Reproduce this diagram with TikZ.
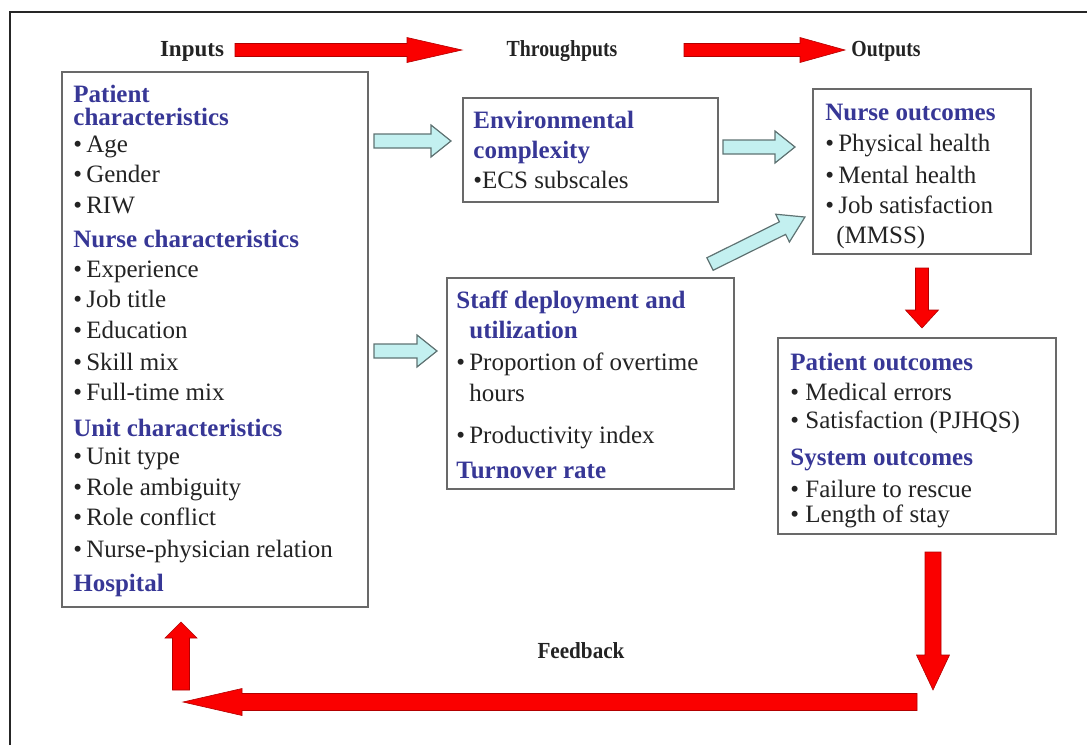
\documentclass[tikz,border=0pt]{standalone}
\usepackage{fontspec}
\setmainfont{Liberation Serif}
\usetikzlibrary{calc}
\definecolor{hdr}{RGB}{55,55,150}
\definecolor{txt}{RGB}{35,35,35}
\definecolor{boxline}{RGB}{105,105,105}
\definecolor{cyanfill}{RGB}{195,240,240}
\definecolor{cyanline}{RGB}{95,115,115}
\definecolor{arrred}{RGB}{250,0,0}
\newcommand\hd[1]{\textcolor{hdr}{\textbf{#1}}}
\makeatletter
\newcommand\blockarrow[6]{%
  \pgfpointdiff{\pgfpointanchor{#2}{center}}{\pgfpointanchor{#3}{center}}%
  \pgfgetlastxy{\ba@dx}{\ba@dy}%
  \pgfmathsetmacro\ba@len{veclen(\ba@dx,\ba@dy)}%
  \pgfmathsetmacro\ba@ang{atan2(\ba@dy,\ba@dx)}%
  \begin{scope}[shift={(#2)},rotate=\ba@ang]
    \draw[#1] (0pt,-#4) -- ({\ba@len pt-#6},-#4) -- ({\ba@len pt-#6},-#5) -- (\ba@len pt,0pt) -- ({\ba@len pt-#6},#5) -- ({\ba@len pt-#6},#4) -- (0pt,#4) -- cycle;
  \end{scope}}
\makeatother
\begin{document}
\begin{tikzpicture}[x=0.5pt,y=-0.5pt,
  box/.style={draw=boxline,line width=0.8pt,inner sep=0pt,anchor=north west},
  body/.style={inner sep=0pt,anchor=north west,align=left,text=txt,font=\fontsize{12.5}{15}\selectfont},
  toplabel/.style={inner sep=0pt,anchor=base,text=txt,font=\bfseries\fontsize{11.5}{14}\selectfont},
  redarrow/.style={fill=arrred,draw=red!70!black,line width=0.3pt},
  cyanarrow/.style={fill=cyanfill,draw=cyanline,line width=0.6pt}]
\useasboundingbox (0,0) rectangle (1087,745);
\draw[line width=0.6pt,black!85] (10,745) -- (10,12) -- (1087,12);

% boxes
\node[box,minimum width=153pt,minimum height=267.5pt] (inbox) at (61,71) {};
\node[box,minimum width=127.5pt,minimum height=52pt] (envbox) at (462,97) {};
\node[box,minimum width=143.5pt,minimum height=105.5pt] (staffbox) at (446,277) {};
\node[box,minimum width=109pt,minimum height=82.5pt] (nursebox) at (812,88) {};
\node[box,minimum width=139pt,minimum height=98pt] (outbox) at (777,337) {};

% top labels
\node[toplabel] (inputs) at (192,56) {Inputs};
\node[toplabel] (through) at (562,56) {\scalebox{0.86}[1]{Throughputs}};
\node[toplabel] (outputs) at (886,56) {\scalebox{0.86}[1]{Outputs}};
\node[toplabel] (feedback) at (581,658) {\scalebox{0.92}[1]{Feedback}};

% texts
\node[body] (intext) at (73,82) {\rule{0pt}{10pt}\hd{Patient}\\[-3.5pt]
\hd{characteristics}\\[-1.5pt]
•\,Age\\
•\,Gender\\[0.5pt]
•\,RIW\\[2pt]
\hd{Nurse characteristics}\\
•\,Experience\\
•\,Job title\\[0.5pt]
•\,Education\\[1pt]
•\,Skill mix\\
•\,Full-time mix\\[3pt]
\hd{Unit characteristics}\\[-1pt]
•\,Unit type\\[0.5pt]
•\,Role ambiguity\\
•\,Role conflict\\[1pt]
•\,Nurse-physician relation\\[2pt]
\hd{Hospital}};

\node[body] (envtext) at (473,108) {\rule{0pt}{10pt}\hd{Environmental}\\
\hd{complexity}\\
•ECS subscales};

\node[body] (stafftext) at (456,288) {\rule{0pt}{10pt}\hd{Staff deployment and}\\
\hspace*{6.5pt}\hd{utilization}\\[1pt]
•\,Proportion of overtime\\[0.5pt]
\hspace*{6.5pt}hours\\[6pt]
•\,Productivity index\\[2.5pt]
\hd{Turnover rate}};

\node[body] (nursetext) at (825,100) {\rule{0pt}{10pt}\hd{Nurse outcomes}\\[0.5pt]
•\,Physical health\\[1pt]
•\,Mental health\\
•\,Job satisfaction\\
\hspace*{5.5pt}(MMSS)};

\node[body] (outtext) at (790,350) {\rule{0pt}{10pt}\hd{Patient outcomes}\\
•~Medical errors\\[-1pt]
•~Satisfaction (PJHQS)\\[3.5pt]
\hd{System outcomes}\\[1pt]
•~Failure to rescue\\[-2.5pt]
•~Length of stay};

% arrow end points
\coordinate (r1s) at (235,50);  \coordinate (r1e) at (462,50);
\coordinate (r2s) at (684,50);  \coordinate (r2e) at (845,50);
\coordinate (r3s) at (922,268); \coordinate (r3e) at (922,328);
\coordinate (r4s) at (933,552); \coordinate (r4e) at (933,690);
\coordinate (r5s) at (917,702); \coordinate (r5e) at (183,702);
\coordinate (r6s) at (181,690); \coordinate (r6e) at (181,622);
\coordinate (c1s) at (374,141); \coordinate (c1e) at (451,141);
\coordinate (c2s) at (723,147); \coordinate (c2e) at (795,147);
\coordinate (c3s) at (374,351); \coordinate (c3e) at (437,351);
\coordinate (c4s) at (710,264); \coordinate (c4e) at (805,217);

\blockarrow{redarrow}{r1s}{r1e}{3.25pt}{6.25pt}{27.5pt}
\blockarrow{redarrow}{r2s}{r2e}{3.25pt}{6.25pt}{22.5pt}
\blockarrow{redarrow}{r3s}{r3e}{3.25pt}{8.25pt}{9pt}
\blockarrow{redarrow}{r4s}{r4e}{4pt}{8.25pt}{17.5pt}
\blockarrow{redarrow}{r5s}{r5e}{4.25pt}{6.75pt}{29.5pt}
\blockarrow{redarrow}{r6s}{r6e}{4.25pt}{8pt}{8pt}
\blockarrow{cyanarrow}{c1s}{c1e}{3.5pt}{8pt}{10pt}
\blockarrow{cyanarrow}{c2s}{c2e}{3.5pt}{8pt}{10pt}
\blockarrow{cyanarrow}{c3s}{c3e}{3.5pt}{8pt}{10pt}
\blockarrow{cyanarrow}{c4s}{c4e}{3.5pt}{7.75pt}{12.5pt}
\end{tikzpicture}
\end{document}
